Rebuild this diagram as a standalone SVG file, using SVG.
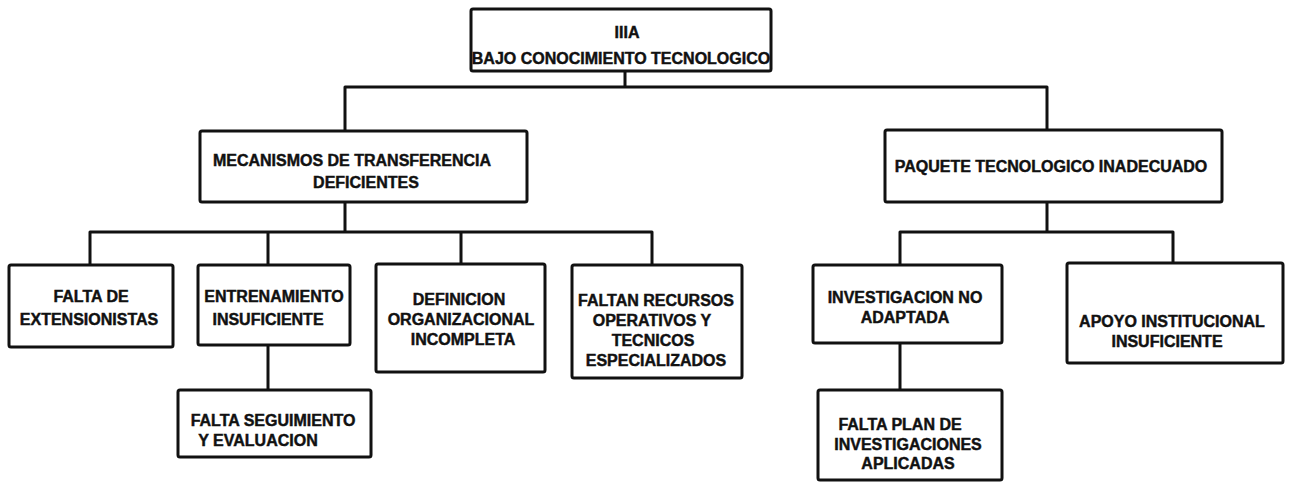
<svg xmlns="http://www.w3.org/2000/svg" width="1289" height="482" viewBox="0 0 1289 482">
<style>
.box{fill:#fff;stroke:#111;stroke-width:3}
.ln{fill:none;stroke:#111;stroke-width:3;stroke-linejoin:round}
.t{font-family:"Liberation Sans",Arial,sans-serif;font-weight:bold;font-size:16px;fill:#111;stroke:#111;stroke-width:0.45;text-anchor:middle}
</style>
<rect width="1289" height="482" fill="#fff"/>
<g id="connectors">
<path class="ln" d="M625 71V87M345 131V87H1047V130"/>
<path class="ln" d="M345 202V232M90 265V232H652V265M268 232V265M461 232V264"/>
<path class="ln" d="M1047 202V232M900 265V232H1173V263"/>
<path class="ln" d="M268 345V390"/>
<path class="ln" d="M900 343V390"/>
</g>
<g id="n-root">
<rect class="box" x="471" y="9" width="300" height="62" rx="2"/>
<text class="t" x="627" y="38">IIIA</text>
<text class="t" x="621" y="64">BAJO CONOCIMIENTO TECNOLOGICO</text>
</g>
<g id="n-mecanismos">
<rect class="box" x="200" y="131" width="327" height="71" rx="2"/>
<text class="t" x="352" y="166">MECANISMOS DE TRANSFERENCIA</text>
<text class="t" x="366" y="188">DEFICIENTES</text>
</g>
<g id="n-paquete">
<rect class="box" x="885" y="130" width="337" height="72" rx="2"/>
<text class="t" x="1051" y="172">PAQUETE TECNOLOGICO INADECUADO</text>
</g>
<g id="n-extensionistas">
<rect class="box" x="9" y="265" width="164" height="82" rx="2"/>
<text class="t" x="91" y="302">FALTA DE</text>
<text class="t" x="89" y="325">EXTENSIONISTAS</text>
</g>
<g id="n-entrenamiento">
<rect class="box" x="198" y="265" width="152" height="80" rx="2"/>
<text class="t" x="274" y="302">ENTRENAMIENTO</text>
<text class="t" x="268" y="325">INSUFICIENTE</text>
</g>
<g id="n-definicion">
<rect class="box" x="376" y="264" width="169" height="108" rx="2"/>
<text class="t" x="459" y="305">DEFINICION</text>
<text class="t" x="461" y="325">ORGANIZACIONAL</text>
<text class="t" x="463" y="345">INCOMPLETA</text>
</g>
<g id="n-recursos">
<rect class="box" x="572" y="265" width="170" height="113" rx="2"/>
<text class="t" x="656" y="306">FALTAN RECURSOS</text>
<text class="t" x="652" y="326">OPERATIVOS Y</text>
<text class="t" x="653" y="346">TECNICOS</text>
<text class="t" x="656" y="366">ESPECIALIZADOS</text>
</g>
<g id="n-seguimiento">
<rect class="box" x="178" y="390" width="193" height="67" rx="2"/>
<text class="t" x="273" y="426">FALTA SEGUIMIENTO</text>
<text class="t" x="258" y="446">Y EVALUACION</text>
</g>
<g id="n-investigacion">
<rect class="box" x="813" y="265" width="189" height="78" rx="2"/>
<text class="t" x="905" y="303">INVESTIGACION NO</text>
<text class="t" x="905" y="323">ADAPTADA</text>
</g>
<g id="n-plan">
<rect class="box" x="818" y="390" width="184" height="90" rx="2"/>
<text class="t" x="900" y="430">FALTA PLAN DE</text>
<text class="t" x="908" y="450">INVESTIGACIONES</text>
<text class="t" x="908" y="469">APLICADAS</text>
</g>
<g id="n-apoyo">
<rect class="box" x="1067" y="263" width="216" height="100" rx="2"/>
<text class="t" x="1172" y="327">APOYO INSTITUCIONAL</text>
<text class="t" x="1167" y="347">INSUFICIENTE</text>
</g>
</svg>
